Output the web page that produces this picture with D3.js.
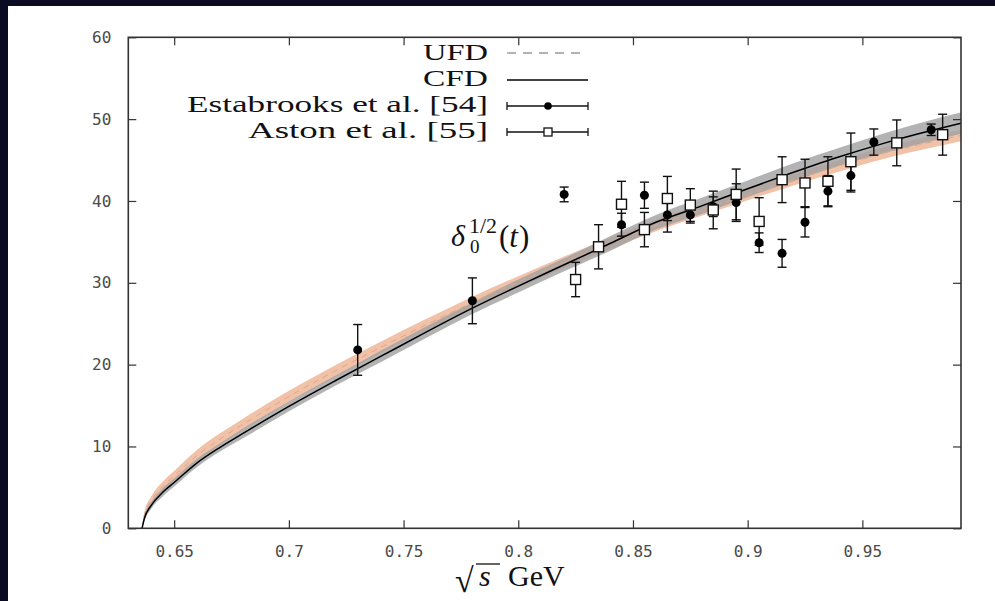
<!DOCTYPE html>
<html>
<head>
<meta charset="utf-8">
<script src="https://cdn.jsdelivr.net/npm/d3@7"></script>
<style>
  body { margin: 0; background: #0a0a23; }
  svg { display: block; }
</style>
</head>
<body>
<svg id="chart"></svg>
<script>
// theory curves (sqrt(s) in GeV, phase shift in degrees)
const curveX  = [0.636, 0.637, 0.64, 0.645, 0.65, 0.66, 0.67, 0.68, 0.70, 0.72, 0.74, 0.76, 0.78, 0.80, 0.82, 0.84, 0.86, 0.88, 0.90, 0.92, 0.94, 0.96, 0.98, 0.993];
const cfd     = [0, 1.2, 2.8, 4.4, 5.6, 8.0, 9.9, 11.6, 14.9, 18.0, 21.0, 24.0, 26.9, 29.6, 32.2, 34.8, 37.4, 39.4, 41.5, 43.5, 45.4, 47.1, 48.6, 49.5];
const cfdErr  = [0, 0.3, 0.4, 0.5, 0.5, 0.5, 0.5, 0.6, 0.6, 0.6, 0.7, 0.7, 0.7, 0.8, 0.8, 0.9, 0.9, 1.0, 1.0, 1.1, 1.1, 1.2, 1.3, 1.3];
const ufd     = [0, 1.6, 3.4, 5.1, 6.4, 8.9, 10.9, 12.7, 16.1, 19.2, 22.1, 24.9, 27.6, 30.1, 32.5, 34.8, 37.0, 38.9, 40.8, 42.6, 44.3, 45.9, 47.2, 48.0];
const ufdErr  = [0, 0.4, 0.5, 0.6, 0.6, 0.7, 0.7, 0.7, 0.7, 0.7, 0.7, 0.7, 0.7, 0.7, 0.7, 0.7, 0.7, 0.7, 0.7, 0.7, 0.7, 0.7, 0.7, 0.7];

// Estabrooks et al. [54]
const estX   = [0.73, 0.78, 0.82, 0.845, 0.855, 0.865, 0.875, 0.885, 0.895, 0.905, 0.915, 0.925, 0.935, 0.945, 0.955, 0.98];
const estY   = [21.8, 27.8, 40.8, 37.1, 40.7, 38.3, 38.3, 39.3, 39.8, 34.9, 33.6, 37.4, 41.2, 43.1, 47.2, 48.7];
const estErr = [3.1, 2.8, 0.9, 1.4, 1.6, 2.1, 1.0, 1.2, 2.3, 1.2, 1.7, 1.8, 1.9, 2.0, 1.6, 0.7];

// Aston et al. [55]
const astX   = [0.825, 0.835, 0.845, 0.855, 0.865, 0.875, 0.885, 0.895, 0.905, 0.915, 0.925, 0.935, 0.945, 0.965, 0.985];
const astY   = [30.4, 34.4, 39.6, 36.5, 40.3, 39.5, 38.9, 40.8, 37.5, 42.6, 42.2, 42.4, 44.8, 47.1, 48.1];
const astErr = [2.1, 2.7, 2.8, 2.1, 2.7, 2.0, 2.3, 3.1, 2.9, 2.8, 2.9, 3.0, 3.5, 2.8, 2.5];

const xTicks = [0.65, 0.7, 0.75, 0.8, 0.85, 0.9, 0.95];
const yTicks = [0, 10, 20, 30, 40, 50, 60];
const legendLabels = ["UFD", "CFD", "Estabrooks et al. [54]", "Aston et al. [55]"];

const W = 995, H = 601;
const margin = {top: 37.3, right: 34, bottom: 72.7, left: 128.3},
    width = W - margin.left - margin.right,
    height = H - margin.top - margin.bottom;

const root = d3.select("#chart").attr("width", W).attr("height", H);

// white page on the navy background
root.append("rect")
    .attr("x", 8).attr("y", 6)
    .attr("width", W - 8).attr("height", H - 6)
    .attr("fill", "#fff");

const svg = root.append("g")
    .attr("transform", `translate(${margin.left},${margin.top})`);

const x = d3.scaleLinear().domain([0.63, 0.993]).range([0, width]);
const y = d3.scaleLinear().domain([0, 60]).range([height, 0]);

const tickFont = "'DejaVu Sans Mono', monospace";
const serif = "'Liberation Serif', 'DejaVu Serif', serif";

// bands
const pts = curveX.map((v, i) => ({x: v, c: cfd[i], ce: cfdErr[i], u: ufd[i], ue: ufdErr[i]}));

svg.append("clipPath").attr("id", "clip")
    .append("rect").attr("width", width).attr("height", height);

const plot = svg.append("g").attr("clip-path", "url(#clip)");

plot.append("path")
    .datum(pts)
    .attr("fill", "#f2c2a8")
    .attr("d", d3.area().curve(d3.curveMonotoneX)
        .x(d => x(d.x)).y0(d => y(d.u - d.ue)).y1(d => y(d.u + d.ue)));

plot.append("path")
    .datum(pts)
    .attr("fill", "#a0a0a0")
    .attr("fill-opacity", 0.8)
    .attr("d", d3.area().curve(d3.curveMonotoneX)
        .x(d => x(d.x)).y0(d => y(d.c - d.ce)).y1(d => y(d.c + d.ce)));

plot.append("path")
    .datum(pts)
    .attr("fill", "none")
    .attr("stroke", "#d9a890")
    .attr("stroke-width", 1)
    .attr("stroke-dasharray", "6,5")
    .attr("d", d3.line().curve(d3.curveMonotoneX).x(d => x(d.x)).y(d => y(d.u)));

plot.append("path")
    .datum(pts)
    .attr("fill", "none")
    .attr("stroke", "#000")
    .attr("stroke-width", 1.5)
    .attr("d", d3.line().curve(d3.curveMonotoneX).x(d => x(d.x)).y(d => y(d.c)));

// axes with inward ticks, mirrored on top/right
const fmt = d => String(+d.toFixed(2));
svg.append("g")
    .attr("transform", `translate(0,${height})`)
    .call(d3.axisBottom(x).tickValues(xTicks).tickFormat(fmt).tickSizeInner(-8).tickSizeOuter(0).tickPadding(17));
svg.append("g")
    .call(d3.axisLeft(y).tickValues(yTicks).tickSizeInner(-8).tickSizeOuter(0).tickPadding(17));
svg.append("g")
    .call(d3.axisTop(x).tickValues(xTicks).tickFormat("").tickSizeInner(-8).tickSizeOuter(0));
svg.append("g")
    .attr("transform", `translate(${width},0)`)
    .call(d3.axisRight(y).tickValues(yTicks).tickFormat("").tickSizeInner(-8).tickSizeOuter(0));

svg.selectAll(".domain").remove();
svg.selectAll(".tick line").attr("stroke", "#333").attr("stroke-width", 1.2);
svg.selectAll(".tick text")
    .attr("font-family", tickFont)
    .attr("font-size", 16)
    .attr("fill", "#4a4a4a");

svg.append("rect")
    .attr("width", width).attr("height", height)
    .attr("fill", "none")
    .attr("stroke", "#333")
    .attr("stroke-width", 1.6);

// data points
const capW = 4.5;
function errorBars(g, xs, ys, es) {
    const d = xs.map((v, i) => ({x: v, y: ys[i], e: es[i]}));
    const eb = g.append("g").attr("stroke", "#111").attr("stroke-width", 1.4);
    eb.selectAll("line.v").data(d).join("line")
        .attr("x1", p => x(p.x)).attr("x2", p => x(p.x))
        .attr("y1", p => y(p.y - p.e)).attr("y2", p => y(p.y + p.e));
    eb.selectAll("line.t").data(d).join("line")
        .attr("x1", p => x(p.x) - capW).attr("x2", p => x(p.x) + capW)
        .attr("y1", p => y(p.y + p.e)).attr("y2", p => y(p.y + p.e));
    eb.selectAll("line.b").data(d).join("line")
        .attr("x1", p => x(p.x) - capW).attr("x2", p => x(p.x) + capW)
        .attr("y1", p => y(p.y - p.e)).attr("y2", p => y(p.y - p.e));
    return d;
}

const est = errorBars(svg, estX, estY, estErr);
const ast = errorBars(svg, astX, astY, astErr);

svg.append("g").selectAll("circle").data(est).join("circle")
    .attr("cx", p => x(p.x)).attr("cy", p => y(p.y)).attr("r", 4.5)
    .attr("fill", "#000");

svg.append("g").selectAll("rect").data(ast).join("rect")
    .attr("x", p => x(p.x) - 5).attr("y", p => y(p.y) - 5)
    .attr("width", 10).attr("height", 10)
    .attr("fill", "#fff").attr("stroke", "#111").attr("stroke-width", 1.4);

// legend
const legRowY = [52, 78, 104, 130];
const legTextW = [65, 65, 301, 240];
const leg = root.append("g");
legendLabels.forEach((t, i) => {
    leg.append("text")
        .attr("x", 488).attr("y", legRowY[i] + 8)
        .attr("text-anchor", "end")
        .attr("font-family", serif)
        .attr("font-size", 22.5)
        .attr("textLength", legTextW[i])
        .attr("lengthAdjust", "spacingAndGlyphs")
        .attr("fill", "#111")
        .text(t);
});
const lx0 = 507, lx1 = 588;
leg.append("line").attr("x1", lx0).attr("x2", lx1 - 8).attr("y1", legRowY[0] + 1).attr("y2", legRowY[0] + 1)
    .attr("stroke", "#999").attr("stroke-width", 1.3).attr("stroke-dasharray", "9,7");
leg.append("line").attr("x1", lx0).attr("x2", lx1).attr("y1", legRowY[1] + 2).attr("y2", legRowY[1] + 2)
    .attr("stroke", "#000").attr("stroke-width", 1.5);
[2, 3].forEach(i => {
    const yy = legRowY[i] + 2;
    const g = leg.append("g").attr("stroke", "#111").attr("stroke-width", 1.3);
    g.append("line").attr("x1", lx0).attr("x2", lx1).attr("y1", yy).attr("y2", yy);
    g.append("line").attr("x1", lx0).attr("x2", lx0).attr("y1", yy - 4).attr("y2", yy + 4);
    g.append("line").attr("x1", lx1).attr("x2", lx1).attr("y1", yy - 4).attr("y2", yy + 4);
});
leg.append("circle").attr("cx", 548).attr("cy", legRowY[2] + 2).attr("r", 3.8).attr("fill", "#000");
leg.append("rect").attr("x", 544).attr("y", legRowY[3] - 2).attr("width", 8).attr("height", 8)
    .attr("fill", "#fff").attr("stroke", "#111").attr("stroke-width", 1.3);

// curve label delta_0^{1/2}(t)
const ann = root.append("g").attr("font-family", serif).attr("fill", "#111");
ann.append("text").attr("x", 451).attr("y", 246).attr("font-size", 30).attr("font-style", "italic").text("δ");
ann.append("text").attr("x", 470).attr("y", 253).attr("font-size", 19).text("0");
ann.append("text").attr("x", 469).attr("y", 233).attr("font-size", 20).attr("textLength", 28)
    .attr("lengthAdjust", "spacingAndGlyphs").text("1/2");
const par = ann.append("text").attr("x", 499).attr("y", 247).attr("font-size", 31);
par.append("tspan").text("(");
par.append("tspan").attr("font-style", "italic").text("t");
par.append("tspan").attr("dx", 1).text(")");

// x axis title
const xt = root.append("g").attr("font-family", serif).attr("fill", "#111");
xt.append("text").attr("x", 455).attr("y", 592).attr("font-size", 34).text("√");
xt.append("line").attr("x1", 476).attr("x2", 500).attr("y1", 564).attr("y2", 564)
    .attr("stroke", "#111").attr("stroke-width", 1.3);
xt.append("text").attr("x", 479).attr("y", 586).attr("font-size", 30).attr("font-style", "italic").text("s");
xt.append("text").attr("x", 508).attr("y", 586).attr("font-size", 30).text("GeV");
</script>
</body>
</html>
